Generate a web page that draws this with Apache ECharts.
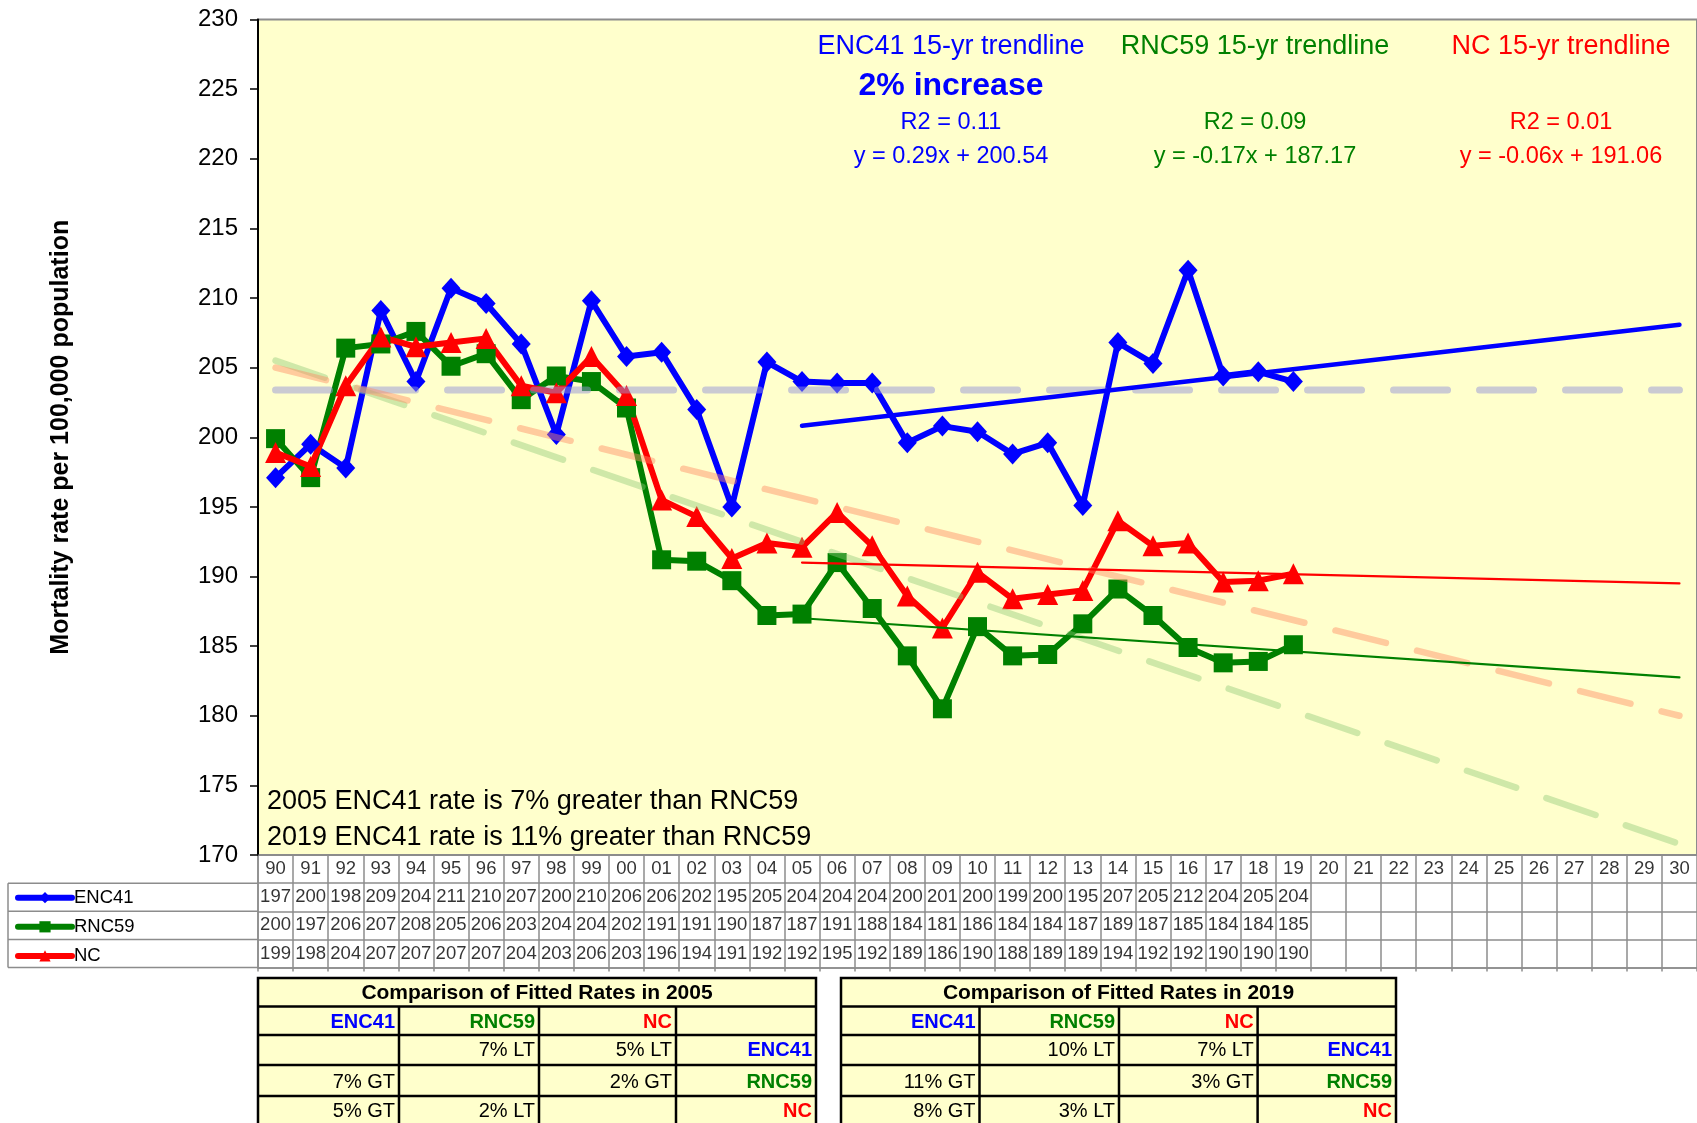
<!DOCTYPE html>
<html>
<head>
<meta charset="utf-8">
<title>Mortality rate per 100,000 population</title>
<script src="https://cdn.jsdelivr.net/npm/echarts@6/dist/echarts.min.js"></script>
<style>
  html, body { margin: 0; padding: 0; background: #ffffff; }
  #chart { width: 1697px; height: 1123px; }
</style>
</head>
<body>
<div id="chart"></div>
<script>
// ---- data ----
const years = ['90','91','92','93','94','95','96','97','98','99','00','01','02','03','04','05','06','07','08','09',
               '10','11','12','13','14','15','16','17','18','19','20','21','22','23','24','25','26','27','28','29','30'];

const enc41 = [197.1, 199.5, 197.8, 209.1, 204.0, 210.7, 209.6, 206.7, 200.2, 209.8,
               205.8, 206.1, 202.0, 195.0, 205.4, 204.0, 203.9, 203.9, 199.6, 200.8,
               200.4, 198.8, 199.6, 195.1, 206.8, 205.3, 212.0, 204.4, 204.7, 204.0];
const rnc59 = [199.9, 197.1, 206.4, 206.7, 207.6, 205.1, 206.0, 202.7, 204.4, 204.0,
               202.1, 191.2, 191.1, 189.7, 187.2, 187.3, 191.0, 187.7, 184.3, 180.5,
               186.4, 184.3, 184.4, 186.6, 189.1, 187.2, 184.9, 183.8, 183.9, 185.1];
const nc    = [198.9, 197.9, 203.7, 207.2, 206.5, 206.8, 207.1, 203.7, 203.2, 205.8,
               203.0, 195.5, 194.3, 191.3, 192.4, 192.1, 194.6, 192.2, 188.6, 186.3,
               190.3, 188.4, 188.7, 189.0, 194.0, 192.2, 192.4, 189.6, 189.7, 190.2];

// long-term trend endpoints (1990, 2030) and ENC41 average level
const ltRnc59 = [205.5, 170.8];
const ltNc    = [205.0, 180.0];
const enc41Avg = [203.4, 203.4];

// 15-yr trendlines, x = 1 at 2005
const trendNames      = ['ENC41', 'RNC59', 'NC'];
const trendSlopes     = [0.29, -0.17, -0.06];
const trendIntercepts = [200.54, 187.17, 191.06];
const trendR2         = ['0.11', '0.09', '0.01'];
const trendStartYear  = '05';

const yMin = 170, yMax = 230, yStep = 5;

const notes = ['2005 ENC41 rate is 7% greater than RNC59', '2019 ENC41 rate is 11% greater than RNC59'];

const cmpTitles = ['Comparison of Fitted Rates in 2005', 'Comparison of Fitted Rates in 2019'];
const cmp2005 = [['ENC41', 'RNC59', 'NC', ''],
                 ['', '7% LT', '5% LT', 'ENC41'],
                 ['7% GT', '', '2% GT', 'RNC59'],
                 ['5% GT', '2% LT', '', 'NC']];
const cmp2019 = [['ENC41', 'RNC59', 'NC', ''],
                 ['', '10% LT', '7% LT', 'ENC41'],
                 ['11% GT', '', '3% GT', 'RNC59'],
                 ['8% GT', '3% LT', '', 'NC']];

// ---- styling ----
const FONT = "'Liberation Sans', Arial, Helvetica, sans-serif";
const COLORS = { ENC41: '#0000FF', RNC59: '#008000', NC: '#FF0000' };
const PLOT_L = 258, PLOT_T = 19.5, PLOT_B = 855, TABLE_B = 967.5, PLOT_R = -6;
const GRID_LINE = '#8c8c8c';

const chart = echarts.init(document.getElementById('chart'));

// trendline endpoints from the fitted equations
const startIdx = years.indexOf(trendStartYear);
const lastIdx = years.length - 1;
function trendLine(k) {
  const xs = [startIdx, lastIdx];
  return xs.map(i => [i, trendSlopes[k] * (i - startIdx + 1) + trendIntercepts[k]]);
}

// cell labels for the data table under the plot
const tableRows = [
  years.map((yr, i) => [i, 3.5, yr]),
  enc41.map((v, i) => [i, 2.5, String(Math.round(v))]),
  rnc59.map((v, i) => [i, 1.5, String(Math.round(v))]),
  nc.map((v, i) => [i, 0.5, String(Math.round(v))])
];

function fmtEq(k) {
  return 'y = ' + trendSlopes[k].toFixed(2) + 'x + ' + trendIntercepts[k].toFixed(2);
}

// annotations in the plot
const annX = [951, 1255, 1561];
const graphics = [];
trendNames.forEach((name, k) => {
  const fill = COLORS[name];
  graphics.push({ type: 'text', x: annX[k], y: 47, silent: true,
    style: { text: name + ' 15-yr trendline', fill, font: '27px ' + FONT, textAlign: 'center', textVerticalAlign: 'middle' } });
  graphics.push({ type: 'text', x: annX[k], y: 123, silent: true,
    style: { text: 'R2 = ' + trendR2[k], fill, font: '23.5px ' + FONT, textAlign: 'center', textVerticalAlign: 'middle' } });
  graphics.push({ type: 'text', x: annX[k], y: 157, silent: true,
    style: { text: fmtEq(k), fill, font: '23.5px ' + FONT, textAlign: 'center', textVerticalAlign: 'middle' } });
});
graphics.push({ type: 'text', x: annX[0], y: 86, silent: true,
  style: { text: '2% increase', fill: COLORS.ENC41, font: 'bold 32px ' + FONT, textAlign: 'center', textVerticalAlign: 'middle' } });
notes.forEach((t, i) => {
  graphics.push({ type: 'text', x: 267, y: 802 + i * 36, silent: true,
    style: { text: t, fill: '#000', font: '27px ' + FONT, textAlign: 'left', textVerticalAlign: 'middle' } });
});

// frame of the legend column in the data table
const rowH = (TABLE_B - PLOT_B) / 4;
for (let r = 1; r <= 4; r++) {
  graphics.push({ type: 'line', silent: true,
    shape: { x1: 8, y1: PLOT_B + r * rowH, x2: PLOT_L, y2: PLOT_B + r * rowH },
    style: { stroke: GRID_LINE, lineWidth: 1.5 } });
}
graphics.push({ type: 'line', silent: true,
  shape: { x1: 8, y1: PLOT_B + rowH, x2: 8, y2: TABLE_B },
  style: { stroke: GRID_LINE, lineWidth: 1.5 } });

// comparison tables
const cmpRowsY = [978, 1006.5, 1035, 1065, 1096, 1135];
const cmpTextY = [1022, 1050, 1082, 1111];
const cmpCols = [[258, 399, 539, 676, 816], [841, 979.5, 1119, 1257.6, 1396]];
function buildCmpTable(cols, title, cells) {
  const x0 = cols[0], x1 = cols[cols.length - 1];
  const y0 = cmpRowsY[0], y1 = cmpRowsY[cmpRowsY.length - 1];
  graphics.push({ type: 'rect', silent: true, shape: { x: x0, y: y0, width: x1 - x0, height: y1 - y0 },
    style: { fill: '#FFFFCC', stroke: '#000', lineWidth: 2.5 } });
  for (let r = 1; r < cmpRowsY.length - 1; r++) {
    graphics.push({ type: 'line', silent: true, shape: { x1: x0, y1: cmpRowsY[r], x2: x1, y2: cmpRowsY[r] },
      style: { stroke: '#000', lineWidth: 2.5 } });
  }
  for (let c = 1; c < cols.length - 1; c++) {
    graphics.push({ type: 'line', silent: true, shape: { x1: cols[c], y1: cmpRowsY[1], x2: cols[c], y2: y1 },
      style: { stroke: '#000', lineWidth: 2.5 } });
  }
  graphics.push({ type: 'text', silent: true, x: (x0 + x1) / 2, y: (cmpRowsY[0] + cmpRowsY[1]) / 2 + 1,
    style: { text: title, fill: '#000', font: 'bold 21px ' + FONT, textAlign: 'center', textVerticalAlign: 'middle' } });
  cells.forEach((row, r) => {
    row.forEach((txt, c) => {
      if (!txt) return;
      const isName = COLORS[txt] !== undefined;
      graphics.push({ type: 'text', silent: true, x: cols[c + 1] - 4, y: cmpTextY[r],
        style: { text: txt, fill: isName ? COLORS[txt] : '#000',
                 font: (isName ? 'bold ' : '') + '20px ' + FONT, textAlign: 'right', textVerticalAlign: 'middle' } });
    });
  });
}
buildCmpTable(cmpCols[0], cmpTitles[0], cmp2005);
buildCmpTable(cmpCols[1], cmpTitles[1], cmp2019);

// ---- chart ----
function dataLine(name, values, symbol, size) {
  return {
    name, type: 'line', xAxisIndex: 0, yAxisIndex: 0, data: values,
    symbol, symbolSize: size, z: 3,
    lineStyle: { color: COLORS[name], width: 6 },
    itemStyle: { color: COLORS[name] },
    emphasis: { disabled: true }
  };
}
function refLine(data, color, width, dash, z) {
  return {
    type: 'line', xAxisIndex: 0, yAxisIndex: 0, data, symbol: 'none', z, silent: true,
    lineStyle: { color, width, type: dash || 'solid', cap: 'round' },
    emphasis: { disabled: true }
  };
}

const option = {
  animation: false,
  textStyle: { fontFamily: FONT },
  legend: {
    data: trendNames, orient: 'vertical', left: 15, top: PLOT_B + rowH + rowH / 2 - 9,
    itemWidth: 54, itemHeight: 14, itemGap: rowH - 18, padding: 0,
    lineStyle: { width: 6, cap: 'round' },
    textStyle: { fontSize: 18.5, color: '#000', fontFamily: FONT, padding: [0, 0, 0, -3] },
    selectedMode: false
  },
  grid: [
    { left: PLOT_L, right: PLOT_R, top: PLOT_T, height: PLOT_B - PLOT_T, show: true,
      backgroundColor: '#FFFFCC', borderColor: GRID_LINE, borderWidth: 2 },
    { left: PLOT_L, right: PLOT_R, top: PLOT_B, height: TABLE_B - PLOT_B, show: false }
  ],
  xAxis: [
    { type: 'category', gridIndex: 0, data: years, boundaryGap: true,
      axisLine: { show: false }, axisTick: { show: false }, axisLabel: { show: false }, splitLine: { show: false } },
    { type: 'category', gridIndex: 1, data: years, boundaryGap: true,
      axisLine: { show: true, lineStyle: { color: GRID_LINE, width: 1.5 } },
      axisTick: { show: true, interval: 0, length: 4, lineStyle: { color: GRID_LINE, width: 1.5 } },
      axisLabel: { show: false, interval: 0 },
      splitLine: { show: true, interval: 0, lineStyle: { color: GRID_LINE, width: 1.5 } } }
  ],
  yAxis: [
    { type: 'value', gridIndex: 0, min: yMin, max: yMax, interval: yStep,
      name: 'Mortality rate per 100,000 population', nameLocation: 'middle', nameRotate: 90, nameGap: 184,
      nameTextStyle: { fontSize: 25, fontWeight: 'bold', color: '#000', fontFamily: FONT },
      axisLine: { show: true, lineStyle: { color: '#000', width: 2 } },
      axisTick: { show: true, length: 8, lineStyle: { color: '#000', width: 1.5 } },
      axisLabel: { fontSize: 24, color: '#000', margin: 20, fontFamily: FONT },
      splitLine: { show: false } },
    { type: 'value', gridIndex: 1, min: 0, max: 4, interval: 1,
      axisLine: { show: true, lineStyle: { color: GRID_LINE, width: 1.5 } },
      axisTick: { show: false }, axisLabel: { show: false },
      splitLine: { show: true, lineStyle: { color: GRID_LINE, width: 1.5 } } }
  ],
  series: [
    dataLine('ENC41', enc41, 'diamond', [19, 21]),
    dataLine('RNC59', rnc59, 'rect', 19),
    dataLine('NC', nc, 'triangle', 21),
    refLine([[0, enc41Avg[0]], [lastIdx, enc41Avg[1]]], 'rgba(150,150,215,0.5)', 7, [54, 32], 4),
    refLine([[0, ltRnc59[0]], [lastIdx, ltRnc59[1]]], 'rgba(140,200,120,0.42)', 6.5, [52, 32], 4),
    refLine([[0, ltNc[0]], [lastIdx, ltNc[1]]], 'rgba(255,140,100,0.45)', 6.5, [52, 32], 4),
    refLine(trendLine(0), COLORS.ENC41, 4.5, null, 5),
    refLine(trendLine(1), COLORS.RNC59, 2.2, null, 5),
    refLine(trendLine(2), COLORS.NC, 2.2, null, 5),
    ...tableRows.map(items => ({
      type: 'scatter', xAxisIndex: 1, yAxisIndex: 1, data: items, symbolSize: 1, silent: true,
      itemStyle: { color: 'rgba(0,0,0,0)' },
      label: { show: true, position: 'inside', formatter: p => p.value[2],
               fontSize: 18.5, color: '#000', fontFamily: FONT },
      emphasis: { disabled: true }
    }))
  ],
  graphic: graphics
};

chart.setOption(option);
</script>
</body>
</html>
